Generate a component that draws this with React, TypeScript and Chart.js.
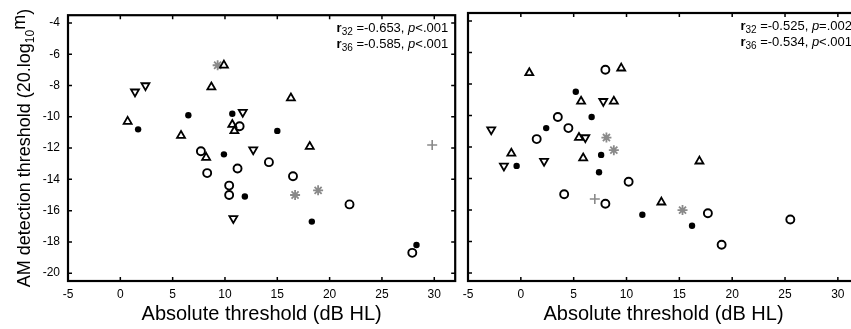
import React, { useEffect, useRef } from "react";
import { Chart, registerables } from "chart.js";
Chart.register(...registerables);

type Pt = [number, number];

const FONT = '"Liberation Sans", Arial, Helvetica, sans-serif';

const xTicks = [-5, 0, 5, 10, 15, 20, 25, 30];
const yTicks = [-20, -18, -16, -14, -12, -10, -8, -6, -4];
const xMin = -5;
const xMax = 32;
const yMin = -20.5;
const yMax = -3.5;

const xTitle = "Absolute threshold (dB HL)";
const yTitleMain = "AM detection threshold (20.log";
const yTitleSub = "10";
const yTitleEnd = "m";

// Left panel
const leftTriUp: Pt[] = [[0.7, -10.3], [5.8, -11.2], [8.7, -8.1], [9.9, -6.7], [16.3, -8.8], [18.1, -11.9], [10.7, -10.5], [10.9, -10.9], [8.2, -12.6]];
const leftTriDown: Pt[] = [[1.4, -8.4], [2.4, -8.0], [11.7, -9.7], [12.7, -12.1], [10.8, -16.5]];
const leftFilled: Pt[] = [[1.7, -10.8], [6.5, -9.9], [10.7, -9.8], [15.0, -10.9], [9.9, -12.4], [11.9, -15.1], [18.3, -16.7], [28.3, -18.2]];
const leftOpen: Pt[] = [[7.7, -12.2], [8.3, -13.6], [11.4, -10.6], [11.2, -13.3], [10.4, -14.4], [10.4, -15.0], [14.2, -12.9], [16.5, -13.8], [21.9, -15.6], [27.9, -18.7]];
const leftStar: Pt[] = [[9.3, -6.7], [16.7, -15.0], [18.9, -14.7]];
const leftPlus: Pt[] = [[29.8, -11.8]];
const leftStats = [
  { sub: "32", r: "-0.653", p: "<.001" },
  { sub: "36", r: "-0.585", p: "<.001" },
];

// Right panel
const rightTriUp: Pt[] = [[0.8, -7.3], [9.5, -7.0], [5.7, -9.1], [8.8, -9.1], [5.5, -11.4], [-0.9, -12.4], [5.9, -12.7], [16.9, -12.9], [13.3, -15.5]];
const rightTriDown: Pt[] = [[-2.8, -10.9], [-1.6, -13.2], [2.2, -12.9], [6.1, -11.4], [7.8, -9.1]];
const rightFilled: Pt[] = [[5.2, -8.5], [6.7, -10.1], [2.4, -10.8], [-0.4, -13.2], [7.6, -12.5], [7.4, -13.6], [11.5, -16.3], [16.2, -17.0]];
const rightOpen: Pt[] = [[8.0, -7.1], [3.5, -10.1], [4.5, -10.8], [1.5, -11.5], [4.1, -15.0], [8.0, -15.6], [10.2, -14.2], [17.7, -16.2], [19.0, -18.2], [25.5, -16.6]];
const rightStar: Pt[] = [[8.1, -11.4], [8.8, -12.2], [15.3, -16.0]];
const rightPlus: Pt[] = [[7.0, -15.3]];
const rightStats = [
  { sub: "32", r: "-0.525", p: "=.002" },
  { sub: "36", r: "-0.534", p: "<.001" },
];

const toXY = (pts: Pt[]) => pts.map(([x, y]) => ({ x, y }));

function makeDatasets(up: Pt[], down: Pt[], filled: Pt[], open: Pt[], star: Pt[], plus: Pt[]) {
  return [
    { data: toXY(up), pointStyle: "triangle", pointRadius: 4.6, borderWidth: 1.8, borderColor: "#000", backgroundColor: "#fff" },
    { data: toXY(down), pointStyle: "triangle", rotation: 180, pointRadius: 4.6, borderWidth: 1.8, borderColor: "#000", backgroundColor: "#fff" },
    { data: toXY(filled), pointStyle: "circle", pointRadius: 3.2, borderWidth: 0, borderColor: "#000", backgroundColor: "#000" },
    { data: toXY(open), pointStyle: "circle", pointRadius: 4, borderWidth: 1.9, borderColor: "#000", backgroundColor: "#fff" },
    { data: toXY(star), pointStyle: "star", pointRadius: 5, borderWidth: 1.8, borderColor: "#8a8a8a", backgroundColor: "#8a8a8a" },
    { data: toXY(plus), pointStyle: "cross", pointRadius: 5, borderWidth: 1.6, borderColor: "#8a8a8a", backgroundColor: "#8a8a8a" },
  ];
}

function drawSegments(ctx: CanvasRenderingContext2D, segs: { t: string; font: string; dy: number }[], x: number, y: number) {
  let cx = x;
  segs.forEach((s) => {
    ctx.font = s.font;
    ctx.fillText(s.t, cx, y + s.dy);
    cx += ctx.measureText(s.t).width;
  });
}

function segWidth(ctx: CanvasRenderingContext2D, segs: { t: string; font: string; dy: number }[]) {
  let w = 0;
  segs.forEach((s) => {
    ctx.font = s.font;
    w += ctx.measureText(s.t).width;
  });
  return w;
}

const framePlugin = {
  id: "frame",
  afterDatasetsDraw(chart: any, _args: any, opts: any) {
    const { ctx, chartArea: a, scales } = chart;
    ctx.save();
    ctx.strokeStyle = "#000";
    ctx.fillStyle = "#000";
    ctx.lineWidth = 1.5;
    const tl = 4;
    xTicks.forEach((v) => {
      const px = scales.x.getPixelForValue(v);
      ctx.beginPath();
      ctx.moveTo(px, a.bottom);
      ctx.lineTo(px, a.bottom - tl);
      ctx.moveTo(px, a.top);
      ctx.lineTo(px, a.top + tl);
      ctx.stroke();
    });
    yTicks.forEach((v) => {
      const py = scales.y.getPixelForValue(v);
      ctx.beginPath();
      ctx.moveTo(a.left, py);
      ctx.lineTo(a.left + tl, py);
      ctx.moveTo(a.right, py);
      ctx.lineTo(a.right - tl, py);
      ctx.stroke();
    });
    ctx.lineWidth = 2.2;
    ctx.strokeRect(a.left, a.top, a.right - a.left, a.bottom - a.top);

    // statistics text
    ctx.textBaseline = "alphabetic";
    ctx.textAlign = "left";
    (opts.stats || []).forEach((s: any, i: number) => {
      const segs = [
        { t: "r", font: `bold 13px ${FONT}`, dy: 0 },
        { t: s.sub, font: `10px ${FONT}`, dy: 3 },
        { t: " =" + s.r + ", ", font: `13px ${FONT}`, dy: 0 },
        { t: "p", font: `italic 13px ${FONT}`, dy: 0 },
        { t: s.p, font: `13px ${FONT}`, dy: 0 },
      ];
      const w = segWidth(ctx, segs);
      drawSegments(ctx, segs, a.right - 7 - w, a.top + 17 + i * 16);
    });

    // x title
    ctx.font = `20px ${FONT}`;
    ctx.textAlign = "center";
    ctx.fillText(xTitle, (a.left + a.right) / 2, 320);

    // y title
    if (opts.yTitle) {
      ctx.textAlign = "left";
      const segs = [
        { t: yTitleMain, font: `18px ${FONT}`, dy: 0 },
        { t: yTitleSub, font: `12px ${FONT}`, dy: 4 },
        { t: yTitleEnd, font: `18px ${FONT}`, dy: -5 },
        { t: ")", font: `18px ${FONT}`, dy: 0 },
      ];
      const w = segWidth(ctx, segs);
      ctx.translate(30, (a.top + a.bottom) / 2);
      ctx.rotate(-Math.PI / 2);
      drawSegments(ctx, segs, -w / 2, 0);
    }
    ctx.restore();
  },
};

function makeConfig(datasets: any[], showY: boolean, padding: any, stats: any[]) {
  return {
    type: "scatter" as const,
    data: { datasets },
    plugins: [framePlugin],
    options: {
      responsive: false,
      animation: false as const,
      devicePixelRatio: 1,
      events: [] as any[],
      layout: { padding },
      plugins: {
        legend: { display: false },
        tooltip: { enabled: false },
        frame: { stats, yTitle: showY },
      },
      scales: {
        x: {
          type: "linear" as const,
          min: xMin,
          max: xMax,
          afterBuildTicks: (s: any) => {
            s.ticks = xTicks.map((v) => ({ value: v }));
          },
          afterFit: (s: any) => {
            s.height = 48;
          },
          grid: { display: false, drawTicks: false },
          border: { display: false },
          ticks: { autoSkip: false, maxRotation: 0, minRotation: 0, padding: 6, color: "#000", font: { family: FONT, size: 12 } },
        },
        y: {
          type: "linear" as const,
          min: yMin,
          max: yMax,
          display: showY,
          afterBuildTicks: (s: any) => {
            s.ticks = yTicks.map((v) => ({ value: v }));
          },
          afterFit: (s: any) => {
            s.width = showY ? 68 : 0;
          },
          grid: { display: false, drawTicks: false },
          border: { display: false },
          ticks: { autoSkip: false, padding: 8, color: "#000", font: { family: FONT, size: 12 } },
        },
      },
    },
  };
}

export default function App() {
  const leftRef = useRef<HTMLCanvasElement>(null);
  const rightRef = useRef<HTMLCanvasElement>(null);

  useEffect(() => {
    const left = new Chart(
      leftRef.current as HTMLCanvasElement,
      makeConfig(makeDatasets(leftTriUp, leftTriDown, leftFilled, leftOpen, leftStar, leftPlus), true, { top: 13, right: 3, left: 0, bottom: 0 }, leftStats) as any
    );
    const right = new Chart(
      rightRef.current as HTMLCanvasElement,
      makeConfig(makeDatasets(rightTriUp, rightTriDown, rightFilled, rightOpen, rightStar, rightPlus), false, { top: 13, right: 16, left: 13, bottom: 0 }, rightStats) as any
    );
    return () => {
      left.destroy();
      right.destroy();
    };
  }, []);

  return (
    <div style={{ position: "absolute", left: 0, top: 0, width: 851, height: 329, overflow: "hidden", background: "#fff" }}>
      <canvas ref={leftRef} width={462} height={329} style={{ position: "absolute", left: 0, top: 0, width: 462, height: 329 }} />
      <canvas ref={rightRef} width={420} height={329} style={{ position: "absolute", left: 455, top: 0, width: 420, height: 329 }} />
    </div>
  );
}
